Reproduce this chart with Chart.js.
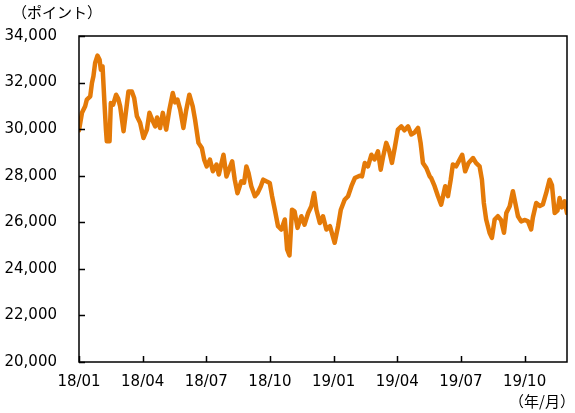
<!DOCTYPE html>
<html>
<head>
<meta charset="utf-8">
<script src="https://cdn.jsdelivr.net/npm/chart.js@4/dist/chart.umd.min.js"></script>
<style>
  html, body { margin: 0; padding: 0; background: #fff; }
  #wrap { width: 575px; height: 413px; }
</style>
</head>
<body>
<div id="wrap"><canvas id="chart"></canvas></div>
<script>
// --- DATA ---
// x position in months since 2018/01
const months = [
  0, 0.14, 0.29, 0.37, 0.53, 0.61, 0.68, 0.76, 0.87, 0.97, 1.03, 1.11, 1.20, 1.27, 1.31, 1.44, 1.50, 1.61, 1.75, 1.85,
  1.94, 2.10, 2.18, 2.33, 2.49, 2.60, 2.73, 2.88, 3.04, 3.20, 3.32, 3.45, 3.59, 3.68, 3.82, 3.95, 4.11, 4.26, 4.42, 4.53,
  4.64, 4.77, 4.92, 5.05, 5.20, 5.36, 5.47, 5.63, 5.79, 5.90, 6.02, 6.17, 6.31, 6.48, 6.59, 6.81, 6.95, 7.07, 7.22, 7.34,
  7.47, 7.65, 7.78, 7.89, 7.99, 8.12, 8.29, 8.42, 8.57, 8.68, 8.83, 8.99, 9.10, 9.23, 9.38, 9.54, 9.70, 9.81, 9.92, 10.04,
  10.16, 10.30, 10.48, 10.63, 10.80, 10.95, 11.08, 11.19, 11.35, 11.50, 11.66, 11.83, 12.05, 12.21, 12.34, 12.52, 12.68, 12.84, 13.00, 13.23,
  13.34, 13.47, 13.62, 13.78, 13.93, 14.09, 14.22, 14.33, 14.48, 14.61, 14.75, 14.88, 15.03, 15.19, 15.34, 15.51, 15.66, 15.81, 15.98, 16.10,
  16.21, 16.37, 16.53, 16.60, 16.76, 16.92, 17.07, 17.26, 17.39, 17.52, 17.62, 17.77, 17.94, 18.06, 18.20, 18.36, 18.57, 18.71, 18.88, 18.99,
  19.08, 19.19, 19.35, 19.46, 19.59, 19.74, 19.89, 20.03, 20.14, 20.30, 20.45, 20.57, 20.69, 20.84, 21.02, 21.16, 21.31, 21.39, 21.55, 21.72,
  21.86, 22.02, 22.18, 22.29, 22.42, 22.55, 22.65, 22.76, 22.89, 23.00
];
const points = [
  29950, 30700, 30980, 31270, 31410, 31980, 32270, 32840, 33160, 32980, 32550, 32700, 31120, 29980, 29480, 29480, 31120, 31050, 31480, 31300,
  30980, 29910, 30500, 31620, 31620, 31340, 30550, 30270, 29620, 29980, 30700, 30400, 30120, 30500, 30050, 30700, 29980, 30840, 31550, 31150,
  31270, 30840, 30050, 30800, 31480, 30980, 30410, 29410, 29190, 28690, 28400, 28690, 28190, 28480, 28050, 28900, 27970, 28260, 28620, 27830,
  27250, 27760, 27700, 28400, 28120, 27550, 27120, 27260, 27550, 27830, 27760, 27690, 27120, 26540, 25830, 25690, 26120, 24830, 24580, 26540,
  26470, 25760, 26260, 25900, 26400, 26690, 27260, 26540, 25970, 26260, 25690, 25830, 25120, 25830, 26540, 26970, 27120, 27550, 27900, 28000,
  27970, 28550, 28400, 28900, 28700, 29050, 28260, 28800, 29410, 29100, 28550, 29190, 29980, 30120, 29950, 30120, 29770, 29850, 30050, 29410,
  28550, 28330, 27970, 27900, 27550, 27120, 26760, 27550, 27120, 27830, 28480, 28400, 28690, 28900, 28190, 28550, 28760, 28550, 28400, 27830,
  26830, 26120, 25550, 25330, 26120, 26260, 26100, 25550, 26400, 26690, 27330, 26800, 26260, 26040, 26100, 26040, 25690, 26200, 26830, 26700,
  26760, 27260, 27830, 27600, 26400, 26500, 27040, 26640, 26900, 26400
];
const tickMonths = [0, 3, 6, 9, 12, 15, 18, 21];
const tickLabels = ['18/01', '18/04', '18/07', '18/10', '19/01', '19/04', '19/07', '19/10'];
const yMin = 20000, yMax = 34000, yStep = 2000;
const yUnit = '（ポイント）';
const xUnit = '（年/月）';

const numFont = { family: '"DejaVu Sans", sans-serif', size: 15 };
const lineColor = '#E47A08';

// frame, inward tick marks and unit labels
const framePlugin = {
  id: 'frame',
  afterDraw(chart) {
    const ctx = chart.ctx;
    const a = chart.chartArea;
    const xs = chart.scales.x, ys = chart.scales.y;
    ctx.save();
    ctx.strokeStyle = '#000';
    ctx.lineWidth = 1.5;
    ctx.strokeRect(a.left, a.top, a.right - a.left, a.bottom - a.top);
    ctx.beginPath();
    xs.ticks.forEach(t => {
      const px = Math.round(xs.getPixelForValue(t.value)) + 0.5;
      ctx.moveTo(px, a.bottom);
      ctx.lineTo(px, a.bottom - 6);
    });
    ys.ticks.forEach(t => {
      const py = Math.round(ys.getPixelForValue(t.value)) + 0.5;
      ctx.moveTo(a.left, py);
      ctx.lineTo(a.left + 6, py);
    });
    ctx.stroke();

    ctx.fillStyle = '#000';
    ctx.font = '15px "Noto Sans CJK JP", sans-serif';
    ctx.textBaseline = 'middle';
    ctx.textAlign = 'left';
    ctx.fillText(yUnit, 12, 12);
    ctx.textAlign = 'right';
    ctx.fillText(xUnit, 575, 401);
    ctx.restore();
  }
};

new Chart(document.getElementById('chart'), {
  type: 'line',
  data: {
    datasets: [{
      data: months.map((m, i) => ({ x: m, y: points[i] })),
      borderColor: lineColor,
      borderWidth: 4.5,
      borderJoinStyle: 'round',
      borderCapStyle: 'round',
      pointRadius: 0,
      tension: 0,
      fill: false
    }]
  },
  options: {
    responsive: true,
    maintainAspectRatio: false,
    animation: false,
    layout: { padding: { top: 36, right: 8, left: 0, bottom: 0 } },
    plugins: {
      legend: { display: false },
      tooltip: { enabled: false }
    },
    scales: {
      x: {
        type: 'linear',
        min: 0,
        max: 23,
        afterBuildTicks: scale => { scale.ticks = tickMonths.map(v => ({ value: v })); },
        afterFit: scale => { scale.height = 51; },
        grid: { display: false, drawTicks: false },
        border: { display: false },
        ticks: {
          autoSkip: false,
          maxRotation: 0,
          padding: 11,
          color: '#000',
          font: numFont,
          callback: v => tickLabels[tickMonths.indexOf(v)]
        }
      },
      y: {
        min: yMin,
        max: yMax,
        afterFit: scale => { scale.width = 79; },
        grid: { display: false, drawTicks: false },
        border: { display: false },
        ticks: {
          stepSize: yStep,
          padding: 22,
          color: '#000',
          font: numFont,
          callback: v => v.toLocaleString('en-US')
        }
      }
    }
  },
  plugins: [framePlugin]
});
</script>
</body>
</html>
